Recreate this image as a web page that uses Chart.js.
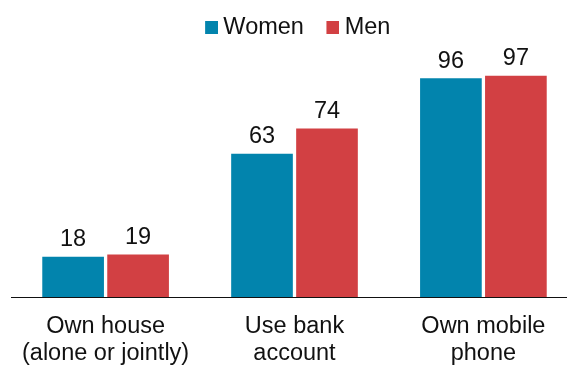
<!DOCTYPE html>
<html>
<head>
<meta charset="utf-8">
<script src="https://cdn.jsdelivr.net/npm/chart.js@4"></script>
<style>
  html, body { margin: 0; padding: 0; background: #fff; overflow: hidden; }
  #wrap { width: 567px; height: 365px; position: relative; }
</style>
</head>
<body>
<div id="wrap"><canvas id="c" width="567" height="365"></canvas></div>
<script>
const categories = [["Own house", "(alone or jointly)"], ["Use bank", "account"], ["Own mobile", "phone"]];
const seriesNames = ["Women", "Men"];
const women = [18, 63, 96];
const men = [19, 74, 97];
const colors = ["#0284AD", "#D24043"];

const FONT = "'Liberation Sans', Arial, Helvetica, sans-serif";
const FS = 23.5;

function makeSwatch(color) {
  const cv = document.createElement('canvas');
  cv.width = 26; cv.height = 13;
  const g = cv.getContext('2d');
  g.fillStyle = color;
  g.fillRect(13, 0, 13, 13);
  return cv;
}
const swatches = colors.map(makeSwatch);

const legendHeight = {
  id: 'legendHeight',
  beforeInit(chart) {
    const orig = chart.legend.fit;
    chart.legend.fit = function () {
      orig.call(this);
      this.height = 69;
    };
  }
};

const valueLabels = {
  id: 'valueLabels',
  afterDatasetsDraw(chart) {
    const ctx = chart.ctx;
    ctx.save();
    ctx.font = FS + "px " + FONT;
    ctx.fillStyle = "#111";
    ctx.textAlign = 'center';
    ctx.textBaseline = 'alphabetic';
    chart.data.datasets.forEach((ds, di) => {
      const meta = chart.getDatasetMeta(di);
      meta.data.forEach((el, i) => {
        ctx.fillText(String(ds.data[i]), el.x, el.y - 10.5);
      });
    });
    ctx.restore();
  },
  afterDraw(chart) {
    const ctx = chart.ctx;
    const y = chart.chartArea.bottom - 0.5;
    ctx.save();
    ctx.strokeStyle = "#111";
    ctx.lineWidth = 1;
    ctx.beginPath();
    ctx.moveTo(11, y);
    ctx.lineTo(567, y);
    ctx.stroke();
    ctx.restore();
  }
};

new Chart(document.getElementById('c'), {
  type: 'bar',
  data: {
    labels: categories,
    datasets: [
      { label: seriesNames[0], data: women, backgroundColor: colors[0], borderWidth: 0, clip: false },
      { label: seriesNames[1], data: men, backgroundColor: colors[1], borderWidth: 0, clip: false }
    ]
  },
  options: {
    responsive: false,
    animation: false,
    devicePixelRatio: 1,
    categoryPercentage: 0.688,
    barPercentage: 0.949,
    layout: { padding: { left: 105.6, right: 83.6, top: 0, bottom: 0 } },
    plugins: {
      tooltip: { enabled: false },
      legend: {
        position: 'top',
        labels: {
          font: { family: FONT, size: FS },
          color: "#111",
          boxWidth: 13,
          boxHeight: 13,
          padding: 16,
          usePointStyle: true,
          generateLabels(chart) {
            const items = Chart.defaults.plugins.legend.labels.generateLabels(chart);
            items.forEach((it, i) => { it.pointStyle = swatches[i]; });
            return items;
          }
        }
      }
    },
    scales: {
      x: {
        offset: false,
        grid: { display: false, drawTicks: false },
        border: { display: false },
        ticks: {
          font: { family: FONT, size: FS, lineHeight: 1.16 },
          color: "#111",
          padding: 14.5,
          autoSkip: false,
          maxRotation: 0,
          minRotation: 0
        },
        afterFit(scale) { scale.height = 67; }
      },
      y: {
        display: false,
        min: 0,
        max: 100
      }
    }
  },
  plugins: [legendHeight, valueLabels]
});
</script>
</body>
</html>
